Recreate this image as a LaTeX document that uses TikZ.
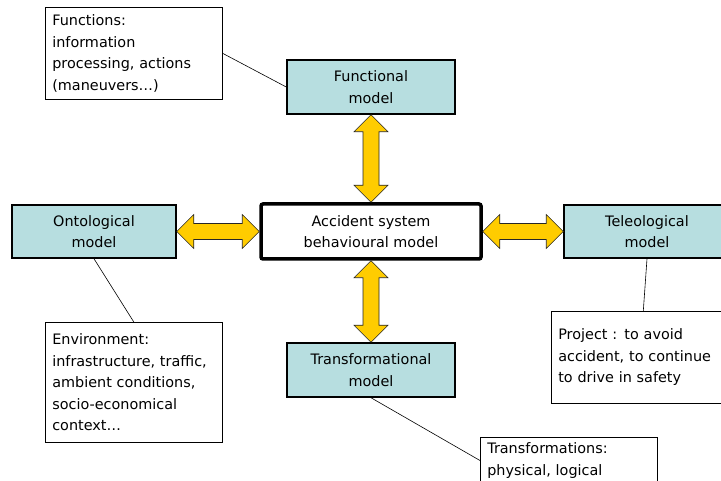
\documentclass[tikz,border=0pt]{standalone}
\usepackage{fontspec}
\setmainfont{DejaVu Sans}
\usetikzlibrary{calc}

\definecolor{modelfill}{RGB}{183,222,224}
\definecolor{arrowfill}{RGB}{255,204,0}

\tikzset{
  model/.style={draw,line width=1.5pt,fill=modelfill,minimum width=168pt,
    minimum height=54pt,align=center,inner sep=2pt},
  core/.style={draw,line width=3.5pt,rounded corners=2pt,fill=white,
    minimum width=220pt,minimum height=55pt,align=center},
  note/.style={draw,line width=0.6pt,anchor=north west,inner sep=7pt,
    text width=163pt,align=left},
  link/.style={line width=0.6pt},
  fatarrow/.style={fill=arrowfill,draw=black!85,line width=0.6pt,line join=miter}
}

% double block arrow between two points
\newcommand{\fatarrow}[2]{%
  \draw[fatarrow] (#1)
    -- ($(#1)!17pt!(#2)!17pt!90:(#2)$)
    -- ($(#1)!17pt!(#2)!8pt!90:(#2)$)
    -- ($(#2)!17pt!(#1)!8pt!-90:(#1)$)
    -- ($(#2)!17pt!(#1)!17pt!-90:(#1)$)
    -- (#2)
    -- ($(#2)!17pt!(#1)!17pt!90:(#1)$)
    -- ($(#2)!17pt!(#1)!8pt!90:(#1)$)
    -- ($(#1)!17pt!(#2)!8pt!-90:(#2)$)
    -- ($(#1)!17pt!(#2)!17pt!-90:(#2)$)
    -- cycle;}

\begin{document}
\begin{tikzpicture}[x=1pt,y=-1pt,font=\fontsize{14.4pt}{21.5pt}\selectfont]
  \useasboundingbox (0,0) rectangle (721,481);

  % models
  \node[core]  (core)  at (371,231.5) {Accident system\\behavioural model};
  \node[model] (func)  at (371,87)    {Functional\\model};
  \node[model,minimum width=164pt,minimum height=53pt] (onto) at (94,231.5) {Ontological\\model};
  \node[model,minimum width=166pt,minimum height=53pt] (tele) at (647,231.5) {Teleological\\model};
  \node[model] (trans) at (371,370)   {Transformational\\model};

  % notes
  \node[note,minimum height=92pt]  (funcnote)  at (45,7)    {Functions:\\information\\processing, actions\\(maneuvers…)};
  \node[note,minimum height=120pt] (envnote)   at (45,322)  {Environment:\\infrastructure, traffic,\\ambient conditions,\\socio-economical\\context…};
  \node[note,minimum height=92pt,text width=170pt] (projnote) at (551,311) {Project : to avoid\\accident, to continue\\to drive in safety};
  \node[note,inner ysep=5.5pt]  (transnote) at (480,437) {Transformations:\\physical, logical};

  \draw[link] (funcnote.east) -- (func.west);
  \draw[link] (onto.south) -- (envnote.north);
  \draw[link] (tele.south) -- (projnote.north);
  \draw[link] (trans.south) -- (transnote.west);

  % arrows
  \fatarrow{func.south}{core.north}
  \fatarrow{core.south}{trans.north}
  \fatarrow{onto.east}{core.west}
  \fatarrow{core.east}{tele.west}
\end{tikzpicture}
\end{document}
